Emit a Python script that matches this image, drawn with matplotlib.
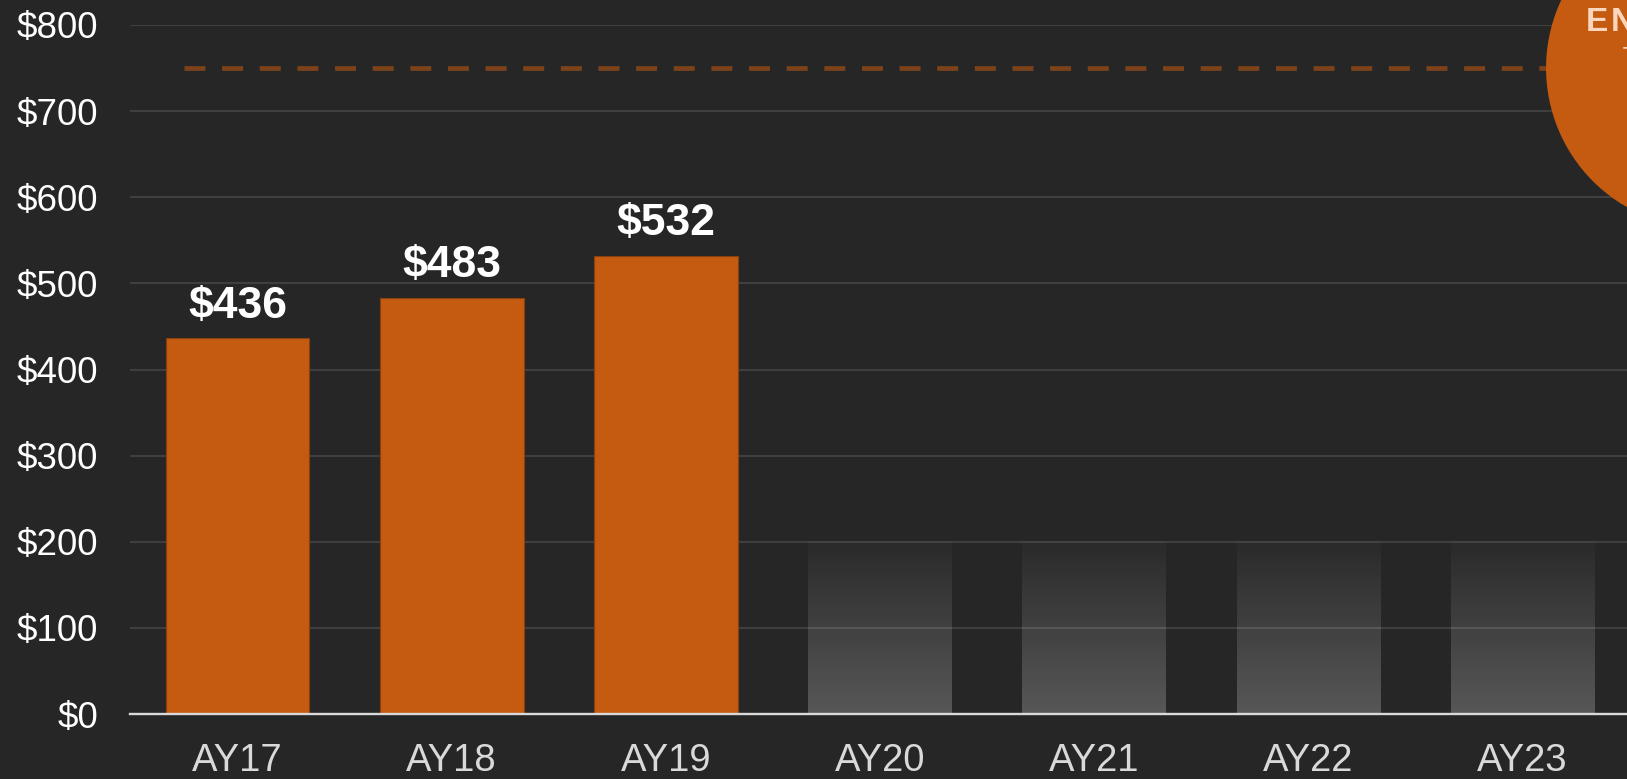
import numpy as np
import matplotlib
matplotlib.use('Agg')
import matplotlib.pyplot as plt
from matplotlib.patches import Ellipse

# ---- data ----
categories = ['AY17', 'AY18', 'AY19', 'AY20', 'AY21', 'AY22', 'AY23']
actual_values = [436, 483, 532]
value_labels = ['$436', '$483', '$532']
placeholder_values = [200, 200, 200, 200]
goal_value = 750
y_ticks = [0, 100, 200, 300, 400, 500, 600, 700, 800]
y_tick_labels = ['$0', '$100', '$200', '$300', '$400', '$500', '$600', '$700', '$800']
badge_text = 'ENDOWMENT'
badge_sub = 'TARGET $750'

# ---- style ----
BG = '#262626'
ORANGE = '#C55A11'
plt.rcParams['font.family'] = ['Liberation Sans', 'DejaVu Sans']

W, H = 1627, 779
fig = plt.figure(figsize=(W / 100, H / 100), dpi=100, facecolor=BG)
ax = fig.add_axes([130 / W, 1 - 714 / H, (W - 130) / W, (714 - 25) / H])
ax.set_facecolor(BG)

x = np.arange(len(categories))
bar_w = 0.671
n_act = len(actual_values)

# actual bars
bars = ax.bar(x[:n_act], actual_values, width=bar_w, color=ORANGE,
              edgecolor='#8a3f0e', linewidth=0.8, zorder=3)
for xi, v, lab in zip(x[:n_act], actual_values, value_labels):
    ax.annotate(lab, (xi, v), xytext=(0, 15), textcoords='offset points',
                ha='center', va='baseline', color='white', fontsize=32,
                fontweight='bold', zorder=5)

# placeholder gradient bars (lighter at the bottom)
grad = np.zeros((256, 2, 4))
grad[..., :3] = 1.0
grad[..., 3] = np.linspace(0.23, 0.02, 256)[:, None]
for xi, v in zip(x[n_act:], placeholder_values):
    ax.imshow(grad, extent=[xi - bar_w / 2, xi + bar_w / 2, 0, v],
              aspect='auto', origin='lower', zorder=1, interpolation='bilinear')

# goal dashed line
cx = 6.856
ax.plot([-0.25, cx], [goal_value, goal_value], color=ORANGE, alpha=0.55,
        lw=3.4, dashes=(4.44, 3.53), dash_capstyle='butt', zorder=2,
        clip_on=False)

# badge circle
r_px = 160
px_per_x = (W - 130) / (6.487 + 0.502)
px_per_y = (714 - 25) / 800
circ = Ellipse((cx, goal_value), 2 * r_px / px_per_x, 2 * r_px / px_per_y,
               facecolor=ORANGE, edgecolor='none', zorder=6, clip_on=False)
ax.add_patch(circ)
spaced = '\u200a'.join(badge_text)
ax.text((1586 - 237.5) / px_per_x, 800 - (31 - 25) / px_per_y, spaced,
        ha='left', va='baseline', color='#fbd6bd', fontsize=24,
        fontweight='bold', zorder=7, clip_on=False)
ax.text((1623 - 237.5) / px_per_x, 800 - (60 - 25) / px_per_y, badge_sub,
        ha='left', va='baseline', color='#fbd6bd', fontsize=13,
        fontweight='bold', zorder=7, clip_on=False)

# axes
ax.set_xlim(-0.502, 6.487)
ax.set_ylim(0, 800)
ax.set_xticks(x)
ax.set_xticklabels(categories, color='#d9d9d9', fontsize=27.5)
ax.set_yticks(y_ticks)
ax.set_yticklabels(y_tick_labels, color='white', fontsize=26.5)
ax.tick_params(axis='both', length=0)
ax.tick_params(axis='y', pad=23)
ax.tick_params(axis='x', pad=21)
ax.yaxis.grid(True, color='#3f3f3f', lw=1.5, zorder=0.5)
ax.set_axisbelow(True)
for s in ['left', 'right', 'top']:
    ax.spines[s].set_visible(False)
ax.spines['bottom'].set_color('#d9d9d9')
ax.spines['bottom'].set_linewidth(1.7)
ax.spines['bottom'].set_zorder(4)

fig.savefig('out.png', dpi=100, facecolor=BG)
